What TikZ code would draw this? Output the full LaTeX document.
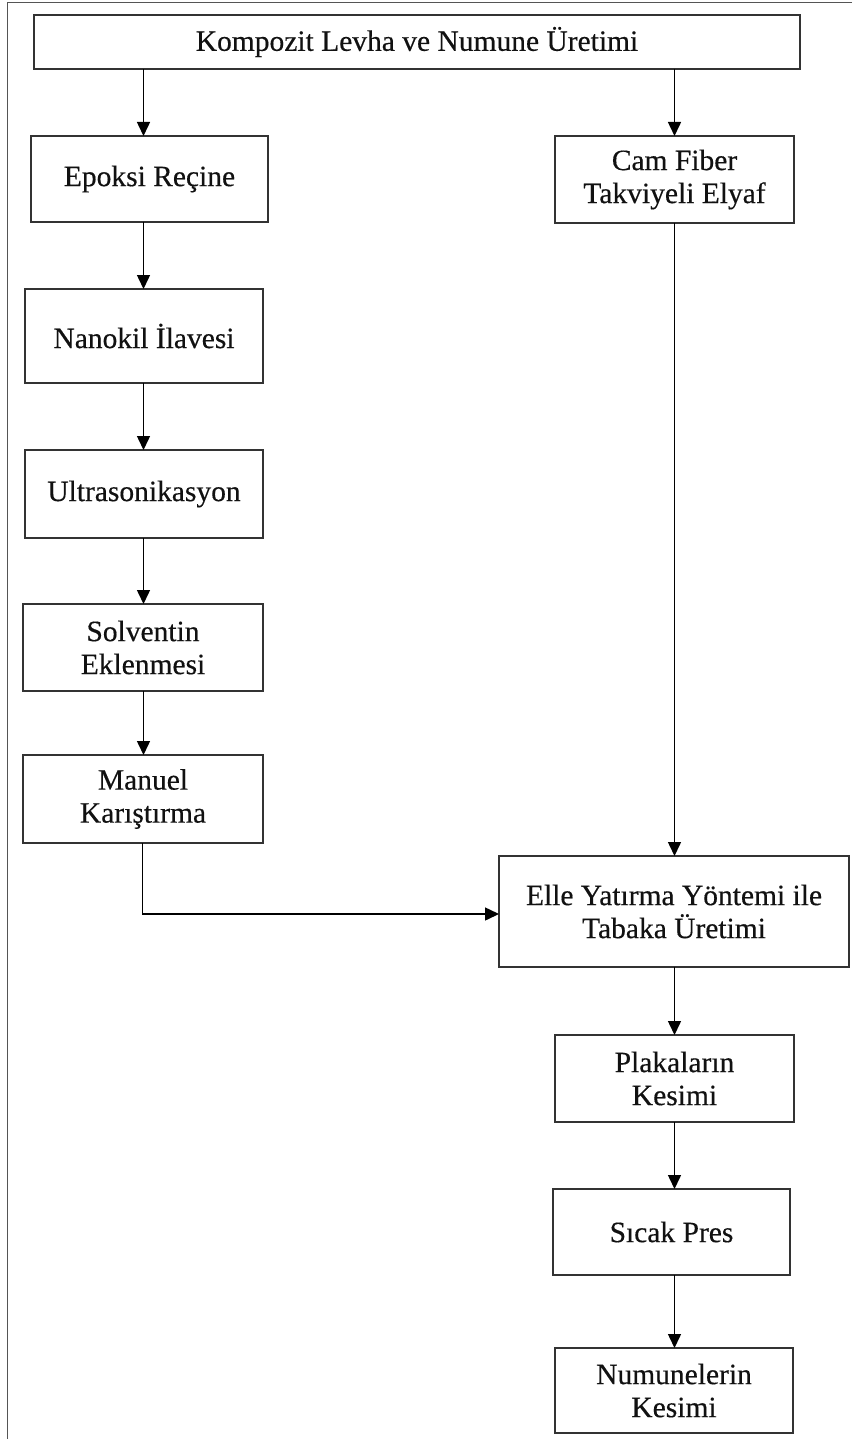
\documentclass[tikz,border=0pt]{standalone}
\usepackage{fontspec}
\setmainfont{Liberation Serif}
\newfontfamily\boxfont{Liberation Serif}[FakeBold=0.4]
\usetikzlibrary{arrows.meta}
\definecolor{boxline}{HTML}{333333}
\definecolor{txt}{HTML}{111111}
\definecolor{frame}{HTML}{555555}
\tikzset{
  stepbox/.style={draw=boxline, line width=1.9pt, text=txt, align=center,
    inner sep=0pt, outer sep=0pt,
    font=\boxfont\fontsize{29.5pt}{33pt}\selectfont},
  arr/.style={draw=black, line width=1.5pt,
    -{Triangle[width=13pt,length=14pt]}},
}
\begin{document}
\begin{tikzpicture}[x=1pt,y=-1pt]
\useasboundingbox (0,0) rectangle (852,1439);
% outer frame (top and left edges)
\coordinate (fa) at (852,2.3);
\coordinate (fb) at (7.7,2.3);
\coordinate (fc) at (7.7,1439);
\draw[frame, line width=1pt] (fa) -- (fb) -- (fc);

\node[stepbox, minimum width=766pt, minimum height=54pt] (top) at (417,42) {Kompozit Levha ve Numune Üretimi};
\node[stepbox, minimum width=237pt, minimum height=86pt] (epoksi) at (149.5,179) {Epoksi Reçine};
\node[stepbox, minimum width=239pt, minimum height=87pt] (cam) at (674.5,179.5) {Cam Fiber\\Takviyeli Elyaf};
\node[stepbox, minimum width=238pt, minimum height=94pt] (nano) at (144,336) {Nanokil İlavesi};
\node[stepbox, minimum width=238pt, minimum height=88pt] (ultra) at (144,494) {Ultrasonikasyon};
\node[stepbox, minimum width=240pt, minimum height=87pt] (solv) at (143,647.5) {Solventin\\Eklenmesi};
\node[stepbox, minimum width=240pt, minimum height=88pt] (manuel) at (143,799) {Manuel\\Karıştırma};
\node[stepbox, minimum width=350pt, minimum height=111pt] (elle) at (674,911.5) {Elle Yatırma Yöntemi ile\\Tabaka Üretimi};
\node[stepbox, minimum width=239pt, minimum height=87pt] (plak) at (674.5,1078.5) {Plakaların\\Kesimi};
\node[stepbox, minimum width=237pt, minimum height=86pt] (sicak) at (671.5,1232) {Sıcak Pres};
\node[stepbox, minimum width=238pt, minimum height=85pt] (numune) at (674,1390.5) {Numunelerin\\Kesimi};

% column guides
\coordinate (lx) at (143.5,0);
\coordinate (rx) at (674.5,0);
\coordinate (turn) at (142.5,914);

\draw[arr] (top.south -| lx) -- (epoksi.north -| lx);
\draw[arr] (top.south -| rx) -- (cam.north -| rx);
\draw[arr] (epoksi.south -| lx) -- (nano.north -| lx);
\draw[arr] (nano.south -| lx) -- (ultra.north -| lx);
\draw[arr] (ultra.south -| lx) -- (solv.north -| lx);
\draw[arr] (solv.south -| lx) -- (manuel.north -| lx);
\draw[arr] (manuel.south -| turn) -- (turn) -- (elle.west |- turn);
\draw[arr] (cam.south -| rx) -- (elle.north -| rx);
\draw[arr] (elle.south -| rx) -- (plak.north -| rx);
\draw[arr] (plak.south -| rx) -- (sicak.north -| rx);
\draw[arr] (sicak.south -| rx) -- (numune.north -| rx);
\end{tikzpicture}
\end{document}
